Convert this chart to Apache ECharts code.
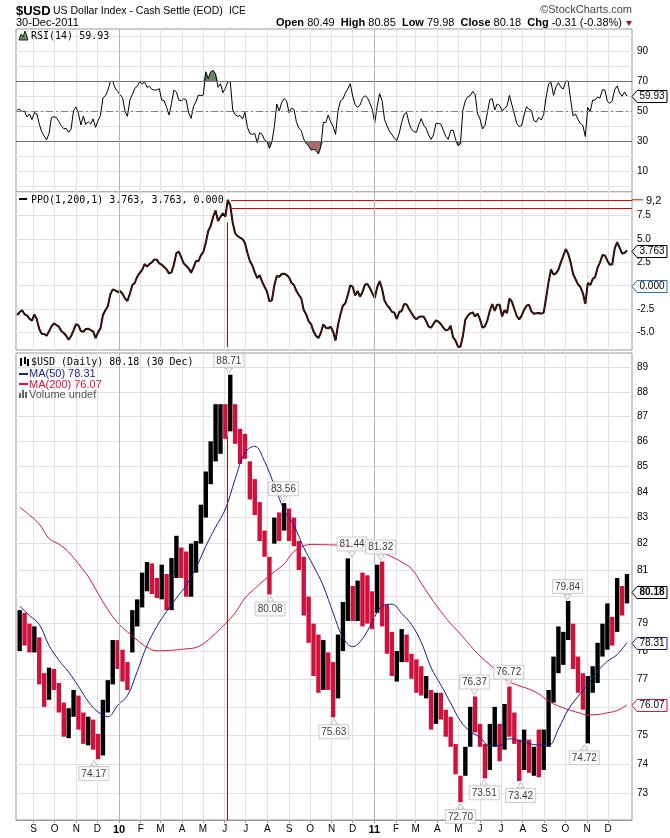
<!DOCTYPE html>
<html>
<head>
<meta charset="utf-8">
<script src="https://cdn.jsdelivr.net/npm/echarts@6/dist/echarts.min.js"></script>
<style>html,body{margin:0;padding:0;background:#fff}#main{width:670px;height:838px}</style>
</head>
<body>
<div id="main"></div>
<script>
/*---------------------------- data ----------------------------*/
// weekly bars, weeks Mon-Fri starting 10 Aug 2009
var weekHigh = [79.5,79.4,79.0,78.9,78.5,77.2,77.4,77.35,76.85,76.15,
  75.95,76.6,76.4,75.8,75.65,75.55,75.05,76.25,76.95,78.4,
  78.4,78.05,77.6,79.5,79.9,80.9,81.3,81.25,80.7,81.2,
  80.85,81.45,82.3,81.85,81.7,82.0,82.1,83.5,84.8,86.0,
  87.5,87.5,87.5,88.71,87.5,86.5,86.3,85.2,84.5,83.6,
  82.5,81.5,83.0,83.2,83.56,83.35,83.0,82.1,81.5,80.0,
  79.0,78.6,78.4,77.95,77.6,78.6,79.8,81.44,80.4,80.6,
  80.9,80.8,80.2,81.2,81.32,79.7,78.7,78.0,78.8,78.6,
  77.9,77.7,77.45,77.1,76.6,76.5,76.5,75.9,75.65,74.7,
  73.6,74.6,76.0,76.37,75.4,74.7,75.4,76.0,75.4,76.1,
  76.72,75.8,74.85,75.2,74.85,74.6,75.2,75.2,76.6,77.8,
  78.9,78.7,79.84,79.0,77.8,77.2,77.1,77.45,78.3,79.0,
  79.75,79.25,80.7,80.4,80.85];
var weekLow = [78.0,78.2,77.95,77.95,76.8,76.0,76.25,76.6,75.8,74.95,
  74.9,75.65,75.2,74.7,74.65,74.5,74.17,74.3,75.8,76.8,
  77.35,76.9,76.6,77.95,78.9,79.6,80.2,80.1,79.95,79.9,
  79.5,79.5,80.7,80.7,80.0,80.0,80.9,82.0,83.0,84.3,
  85.2,85.5,86.1,86.4,85.9,85.1,85.3,83.7,83.1,82.1,
  81.5,80.08,82.0,82.1,82.5,82.1,81.9,81.0,79.3,78.3,
  77.1,76.5,76.6,76.6,75.63,76.3,78.0,79.1,79.1,79.1,
  78.9,79.0,78.8,79.4,78.9,77.9,77.1,76.9,77.6,77.6,
  77.0,76.5,76.4,76.3,75.2,75.4,75.55,74.95,74.6,73.65,
  72.7,73.6,74.6,75.1,74.6,73.51,73.8,74.6,74.1,74.5,
  74.95,74.7,73.42,73.8,73.7,73.6,73.55,73.8,74.6,76.15,
  77.2,77.5,78.4,77.35,76.5,75.9,74.72,76.5,76.85,77.8,
  78.05,78.2,78.7,79.3,79.75];
var weekClose = [78.9,78.4,78.2,78.6,77.0,76.5,77.1,76.9,76.0,75.2,
  75.6,76.3,75.5,75.1,75.3,74.9,74.6,76.1,76.7,77.9,
  77.6,77.3,77.1,79.2,79.5,80.4,80.6,80.4,80.3,80.9,
  80.2,81.1,81.5,81.0,80.5,81.7,81.9,83.3,84.6,85.8,
  86.3,86.9,86.7,87.6,86.2,85.6,85.5,84.0,83.3,82.4,
  81.9,80.6,82.7,82.4,83.1,82.7,82.3,81.2,79.8,78.5,
  77.6,77.0,77.8,77.0,76.6,77.9,79.4,80.2,79.5,80.2,
  80.1,79.8,79.0,80.9,79.1,78.2,77.6,77.7,78.3,77.9,
  77.2,77.0,76.7,76.9,75.9,76.1,75.7,75.1,74.8,73.8,
  73.3,74.5,75.8,75.4,74.8,74.0,75.0,75.5,74.6,75.9,
  75.2,74.9,73.9,74.6,74.1,74.4,73.9,74.8,76.3,77.7,
  78.0,78.5,78.6,77.6,76.9,76.2,76.8,77.2,78.0,78.3,
  78.9,78.6,80.2,79.6,80.18];

// moving averages, one value every second week
var ma50 = [79.65,79.3,78.97,78.2,77.67,77.24,76.73,76.19,75.82,75.65,
  76.05,76.4,77.26,78.2,78.9,79.45,79.95,80.43,81.08,81.9,
  82.63,83.33,84.5,85.55,85.8,85.2,84.25,83.3,82.7,81.85,
  81.15,80.4,79.4,78.5,78.16,78.45,79.07,79.65,79.72,79.38,
  78.97,78.32,77.4,76.78,76.13,75.5,75.13,74.93,74.63,74.65,
  74.88,74.82,74.71,74.66,74.65,75.22,75.9,76.37,76.8,77.27,
  77.63,77.87,78.31];
var ma200 = [83.4,83.1,82.75,82.2,81.98,81.68,81.23,80.75,80.12,79.52,
  79.04,78.7,78.4,78.14,78.01,78.02,78.04,78.08,78.13,78.33,
  78.65,79.0,79.4,79.95,80.3,80.63,80.93,81.23,81.7,81.92,
  81.97,81.96,81.95,81.93,81.88,81.8,81.75,81.65,81.5,81.3,
  81.05,80.5,79.95,79.45,79.0,78.62,78.2,77.82,77.5,77.18,
  76.9,76.75,76.63,76.46,76.2,76.03,75.9,75.8,75.72,75.73,
  75.79,75.87,76.07];

// RSI(14), two readings a week from 8 Aug 2009
var rsi14 = [50.7,51.1,49.6,50.0,46.0,48.0,44.2,48.9,48.2,41.3,
  36.2,33.3,30.7,35.1,45.6,46.2,45.6,42.9,40.2,38.2,
  38.4,35.8,38.0,50.2,52.7,48.4,40.7,46.7,41.1,42.9,
  41.3,44.7,39.1,43.6,47.1,58.7,60.2,63.6,69.5,69.8,
  65.3,63.1,60.7,58.9,50.0,46.4,57.3,60.9,65.1,66.4,
  69.5,67.8,69.6,65.8,66.4,64.4,64.0,64.0,64.9,57.3,
  56.9,52.4,47.3,55.1,64.0,62.7,57.3,56.7,58.2,57.3,
  48.9,45.1,53.1,56.2,60.7,60.2,60.7,76.2,71.6,76.2,
  77.1,74.7,65.8,68.2,62.2,65.1,69.5,69.6,50.7,47.6,
  46.4,47.1,44.7,49.1,39.1,35.1,34.4,35.1,28.9,35.6,
  34.4,30.7,29.6,25.1,29.3,39.6,54.7,50.0,55.8,58.2,
  56.7,48.9,51.8,51.1,42.9,38.7,36.9,31.3,28.4,26.7,
  24.0,24.4,23.8,21.3,26.2,42.4,42.2,47.3,42.7,39.6,
  34.4,50.0,56.7,58.0,62.0,64.7,68.2,60.0,54.2,52.4,
  54.0,58.4,60.2,58.9,55.3,51.1,42.0,53.1,61.6,56.9,
  44.4,40.2,36.4,34.4,32.0,30.2,35.1,42.4,47.8,49.1,
  41.8,38.0,36.2,35.8,40.9,44.9,40.4,38.4,34.0,31.1,
  34.0,41.8,41.6,41.3,37.1,33.1,31.1,36.9,37.3,31.1,
  26.9,28.2,50.7,56.7,59.6,60.2,63.1,60.9,48.2,44.7,
  38.0,40.4,48.9,57.6,58.2,50.7,54.7,53.6,50.2,51.6,
  53.3,60.4,54.2,48.2,41.6,39.6,40.4,47.3,52.9,51.1,
  50.4,43.6,42.7,45.8,44.0,47.8,59.3,68.0,69.1,60.4,
  66.0,68.9,65.8,64.7,69.8,69.9,57.6,46.7,48.0,44.4,
  41.6,40.4,32.9,52.4,49.6,57.3,57.3,59.3,58.7,64.2,
  64.0,56.4,55.1,56.9,64.4,66.7,62.0,59.8,62.7,59.93];

// PPO(1,200,1), same dates as the RSI
var ppo = [-3.14,-2.82,-2.64,-3.07,-3.18,-3.54,-3.75,-3.07,-3.61,-4.64,
  -5.14,-5.18,-5.36,-4.89,-4.36,-4.04,-4.21,-4.39,-4.86,-5.07,
  -5.36,-5.79,-5.39,-4.79,-4.11,-4.25,-4.86,-4.93,-4.64,-4.61,
  -4.75,-4.89,-5.61,-5.0,-4.57,-3.14,-2.64,-2.21,-0.96,-0.39,
  -0.5,-0.68,-0.57,-0.86,-1.36,-1.64,-0.86,0.07,0.29,0.96,
  1.36,1.68,2.32,2.04,2.32,2.5,2.82,2.79,2.39,2.25,
  2.0,1.75,1.32,1.43,2.29,3.5,3.64,3.04,2.39,2.14,
  1.86,1.39,1.96,2.64,2.64,3.25,3.61,4.61,5.86,6.39,
  7.36,8.07,6.93,7.39,7.75,7.39,9.2,8.6,6.75,5.61,
  5.32,5.14,5.0,4.57,3.54,2.64,2.18,1.43,0.82,1.14,
  0.43,-0.11,-0.64,-1.68,-1.57,0.04,1.04,0.96,1.25,1.29,
  1.14,0.89,0.32,0.07,-0.54,-1.0,-1.36,-2.61,-3.07,-3.82,
  -4.11,-4.89,-5.36,-5.61,-5.04,-4.14,-4.5,-4.57,-4.39,-4.93,
  -5.86,-4.21,-3.07,-2.14,-1.89,-1.0,0.04,-0.11,-1.04,-0.57,
  -1.18,-0.68,0.11,0.18,-0.25,-0.79,-1.32,-0.18,0.5,-0.36,
  -1.61,-2.07,-2.39,-2.79,-2.89,-3.57,-2.82,-2.71,-1.96,-2.0,
  -2.5,-2.93,-3.36,-3.61,-3.36,-3.29,-3.32,-3.79,-4.39,-4.5,
  -4.07,-3.71,-3.86,-4.11,-4.5,-4.79,-4.71,-4.29,-5.54,-5.89,
  -6.54,-6.54,-5.39,-3.64,-3.21,-2.96,-2.86,-3.29,-3.0,-3.61,
  -4.5,-4.36,-3.71,-2.68,-1.96,-2.71,-2.04,-2.04,-3.29,-2.61,
  -2.93,-1.36,-1.71,-2.5,-3.25,-3.61,-3.21,-2.57,-2.14,-2.04,
  -2.75,-3.0,-2.96,-2.93,-3.0,-2.89,-1.29,0.43,1.75,1.18,
  1.32,1.71,2.5,3.21,3.93,3.43,2.5,1.25,0.71,0.14,
  -0.14,-0.79,-1.96,0.29,0.07,0.71,0.93,1.93,2.5,3.29,
  3.25,2.68,2.25,2.29,4.0,4.68,4.07,3.46,3.5,3.763];

// labelled highs and lows
var noteDates = ['2009-11-26','2010-06-07','2010-08-05','2010-08-24','2010-11-04','2010-11-30','2011-01-10',
  '2011-05-04','2011-05-24','2011-06-07','2011-07-12','2011-07-29','2011-10-04','2011-10-28'];
var noteValues = [74.17,88.71,80.08,83.56,75.63,81.44,81.32,72.70,76.37,73.51,76.72,73.42,79.84,74.72];
var notePos = ['bottom','top','bottom','top','bottom','top','top','bottom','top','bottom','top','bottom','top','bottom'];

// axis ticks
var priceTicks = [73,74,75,76,77,78,79,80,81,82,83,84,85,86,87,88,89];
var rsiTicks = [10,30,50,70,90];
var rsiGrid = [0,10,20,30,40,50,60,70,80,90,100];
var ppoTicks = [-5,-2.5,2.5,5,7.5];
var ppoGrid = [-5,-2.5,0,2.5,5,7.5,10];
var monthLetters = ['J','F','M','A','M','J','J','A','S','O','N','D'];

/*---------------------------- build ----------------------------*/
var DAY = 86400000;
var t0Week = Date.UTC(2009, 7, 12);
var t0Osc = Date.UTC(2009, 7, 8, 12);
var xMin = Date.UTC(2010, 0, 1) - 147.25 * DAY;
var xMax = Date.UTC(2011, 0, 1) + 368.2 * DAY;
var lg = function (v) { return Math.log(v) / Math.LN10; };

var monthStarts = [];
for (var yy = 2009; yy <= 2011; yy++) {
  for (var mm = 0; mm < 12; mm++) {
    var t = Date.UTC(yy, mm, 1);
    if (t > xMin && t < xMax) monthStarts.push(t);
  }
}
var yearStarts = [Date.UTC(2010, 0, 1), Date.UTC(2011, 0, 1)];
var yearLines = yearStarts.map(function (t) {
  return { xAxis: t, lineStyle: { color: '#b4b4b4', width: 1, type: 'solid' } };
});

var barData = weekHigh.map(function (h, i) {
  var prev = i > 0 ? weekClose[i - 1] : weekClose[0] - 1;
  return [t0Week + i * 7 * DAY, lg(weekLow[i]), lg(h), weekClose[i] >= prev ? 1 : 0];
});
var oscT = function (k) { return t0Osc + k * 3.5 * DAY; };
var rsiData = rsi14.map(function (v, k) { return [oscT(k), v]; });
var obData = rsi14.map(function (v, k) { return [oscT(k), Math.max(v, 70)]; });
var osData = rsi14.map(function (v, k) { return [oscT(k), Math.min(v, 30)]; });
var ppoData = ppo.map(function (v, k) { return [oscT(k), v]; });
var ma50Data = ma50.map(function (v, j) { return [t0Week + j * 14 * DAY, lg(v)]; });
var ma200Data = ma200.map(function (v, j) { return [t0Week + j * 14 * DAY, lg(v)]; });
var noteData = noteValues.map(function (v, i) {
  var top = notePos[i] === 'top';
  return {
    value: [Date.parse(noteDates[i]), lg(v)],
    symbolRotate: top ? 180 : 0,
    symbolOffset: [0, top ? -4 : 4],
    label: { position: notePos[i] }
  };
});

var tRed = Date.UTC(2010, 5, 4);
var tRedH = Date.UTC(2010, 5, 10);
var priceMin = lg(72.10), priceMax = lg(89.61);

var labelFont = 'Liberation Sans';
function xAxisFor(idx, showLabel) {
  return {
    type: 'value', gridIndex: idx, min: xMin, max: xMax,
    axisLine: { show: showLabel, lineStyle: { color: '#999' } },
    axisTick: { show: showLabel, customValues: monthStarts, length: 3, lineStyle: { color: '#999' } },
    axisLabel: {
      show: showLabel, customValues: monthStarts, margin: 4,
      fontSize: 10, fontFamily: labelFont, color: '#000',
      formatter: function (v) {
        var d = new Date(v);
        var m = d.getUTCMonth();
        return m === 0 ? '{yr|' + String(d.getUTCFullYear()).slice(2) + '}' : monthLetters[m];
      },
      rich: { yr: { fontWeight: 'bold', fontSize: 11, fontFamily: labelFont, color: '#000' } }
    },
    splitLine: { show: true, lineStyle: { color: '#e2e2e2', width: 1 } }
  };
}
function yAxisFor(idx, min, max, grid, labels, fmt) {
  return {
    type: 'value', gridIndex: idx, position: 'right', min: min, max: max,
    axisLine: { show: false },
    axisTick: { show: false, customValues: grid },
    axisLabel: { customValues: labels, margin: 5, fontSize: 10, fontFamily: labelFont, color: '#000', formatter: fmt },
    splitLine: { show: true, lineStyle: { color: '#e2e2e2', width: 1 } }
  };
}

var option = {
  animation: false,
  backgroundColor: '#fff',
  grid: [
    { left: 16, right: 38, top: 29, height: 163, show: true, borderColor: '#999', borderWidth: 1 },
    { left: 16, right: 38, top: 192, height: 158, show: true, borderColor: '#999', borderWidth: 1 },
    { left: 16, right: 38, top: 353, height: 467, show: true, borderColor: '#999', borderWidth: 1 }
  ],
  xAxis: [xAxisFor(0, false), xAxisFor(1, false), xAxisFor(2, true)],
  yAxis: [
    yAxisFor(0, -4, 104.67, rsiGrid, rsiTicks, function (v) { return String(v); }),
    yAxisFor(1, -6.89, 10.04, ppoGrid, ppoTicks, function (v) { return v.toFixed(1); }),
    yAxisFor(2, priceMin, priceMax, priceTicks.map(lg), priceTicks.map(lg),
      function (v) { return String(Math.round(Math.pow(10, v))); })
  ],
  series: [
    // RSI panel
    { type: 'line', xAxisIndex: 0, yAxisIndex: 0, data: obData, symbol: 'none', silent: true, z: 2,
      lineStyle: { width: 0 }, areaStyle: { origin: 70, color: '#648c64', opacity: 1 } },
    { type: 'line', xAxisIndex: 0, yAxisIndex: 0, data: osData, symbol: 'none', silent: true, z: 2,
      lineStyle: { width: 0 }, areaStyle: { origin: 30, color: '#a06e6e', opacity: 1 } },
    { type: 'line', name: 'RSI', xAxisIndex: 0, yAxisIndex: 0, data: rsiData, symbol: 'none', z: 3,
      lineStyle: { color: '#000', width: 1 },
      markLine: { silent: true, symbol: 'none', label: { show: false }, data: [
        { yAxis: 70, lineStyle: { color: '#707070', width: 1, type: 'solid' } },
        { yAxis: 30, lineStyle: { color: '#707070', width: 1, type: 'solid' } },
        { yAxis: 50, lineStyle: { color: '#808080', width: 1, type: [7, 3, 2, 3] } }
      ].concat(yearLines) } },
    // PPO panel
    { type: 'line', name: 'PPO', xAxisIndex: 1, yAxisIndex: 1, data: ppoData, symbol: 'none', z: 3,
      lineStyle: { color: '#000', width: 2 },
      markLine: { silent: true, symbol: 'none', label: { show: false },
        lineStyle: { color: '#e00000', width: 1, type: 'solid' },
        data: [
          [{ coord: [tRedH, 9.2] }, { coord: [xMax, 9.2] }],
          [{ coord: [tRedH, 8.3] }, { coord: [xMax, 8.3] }],
          [{ coord: [tRed, -6.6] }, { coord: [tRed, 6.8] }]
        ].concat(yearLines) } },
    { type: 'line', xAxisIndex: 1, yAxisIndex: 1, data: ppoData, symbol: 'none', silent: true, z: 4,
      lineStyle: { color: '#8a1a1a', width: 0.7 } },
    // price panel
    { type: 'custom', name: '$USD', xAxisIndex: 2, yAxisIndex: 2, data: barData, z: 3,
      encode: { x: 0, y: [1, 2] },
      renderItem: function (params, api) {
        var top = api.coord([api.value(0), api.value(2)]);
        var bot = api.coord([api.value(0), api.value(1)]);
        return {
          type: 'rect',
          shape: { x: top[0] - 2.2, y: top[1], width: 4.4, height: Math.max(1, bot[1] - top[1]) },
          style: { fill: api.value(3) ? '#000' : '#d2103c' }
        };
      } },
    { type: 'line', name: 'MA(200)', xAxisIndex: 2, yAxisIndex: 2, data: ma200Data, symbol: 'none', smooth: 0.4, z: 4,
      lineStyle: { color: '#dc143c', width: 1 },
      markLine: { silent: true, symbol: 'none', label: { show: false },
        data: [[{ coord: [tRed, priceMin] }, { coord: [tRed, lg(86.2)] }]].concat(yearLines),
        lineStyle: { color: '#e00000', width: 1, type: 'solid' } } },
    { type: 'line', name: 'MA(50)', xAxisIndex: 2, yAxisIndex: 2, data: ma50Data, symbol: 'none', smooth: 0.4, z: 4,
      lineStyle: { color: '#1c1c96', width: 1 } },
    { type: 'scatter', xAxisIndex: 2, yAxisIndex: 2, data: noteData, z: 6, silent: true,
      symbol: 'triangle', symbolSize: [7, 5],
      itemStyle: { color: '#fff', borderColor: '#bbb', borderWidth: 1 },
      label: { show: true, distance: 1, fontSize: 10, fontFamily: labelFont, color: '#000',
        backgroundColor: '#fff', borderColor: '#c4c4c4', borderWidth: 1, padding: [2, 2, 1, 2],
        formatter: function (p) { return noteValues[p.dataIndex].toFixed(2); } } }
  ]
};

var myChart = echarts.init(document.getElementById('main'));
myChart.setOption(option);

/*---------------------------- texts and tags ----------------------------*/
function txt(x, y, text, font, fill, align) {
  return { type: 'text', x: x, y: y, z: 100,
    style: { text: text, font: font, fill: fill || '#000', align: align || 'left', verticalAlign: 'middle',
      textAlign: align || 'left', textVerticalAlign: 'middle' } };
}
function tag(g, v, text, stroke, bold) {
  var y = Math.round(myChart.convertToPixel({ gridIndex: g }, [xMax, v])[1]) + 0.5;
  return { type: 'group', z: 100, children: [
    { type: 'polygon', z: 100, shape: { points: [[632, y], [637, y - 6], [667, y - 6], [667, y + 6], [637, y + 6]] },
      style: { fill: '#fff', stroke: stroke, lineWidth: 1 } },
    txt(652, y, text, (bold ? 'bold ' : '') + '10px Liberation Sans', '#000', 'center')
  ] };
}
var mono = '10px "DejaVu Sans Mono"';
var ppoTopY = myChart.convertToPixel({ gridIndex: 1 }, [xMax, 9.2])[1];
var graphics = [
  txt(16, 11, '$USD', 'bold 13px Liberation Sans'),
  txt(53, 11, 'US Dollar Index - Cash Settle (EOD)', '10.5px Liberation Sans'),
  txt(229, 11.5, 'ICE', '10px Liberation Sans'),
  txt(16, 23, '30-Dec-2011', '11px Liberation Sans'),
  txt(632, 10, '\u00a9StockCharts.com', '11px Liberation Sans', '#444', 'right'),
  { type: 'text', x: 622, y: 23, z: 100, style: {
      text: '{b|Open} 80.49  {b|High} 80.85  {b|Low} 79.98  {b|Close} 80.18  {b|Chg} -0.31 (-0.38%)',
      font: '11px Liberation Sans', fill: '#000', align: 'right', verticalAlign: 'middle',
      textAlign: 'right', textVerticalAlign: 'middle',
      rich: { b: { fontWeight: 'bold', fontSize: 11, fontFamily: 'Liberation Sans' } } } },
  { type: 'polygon', z: 100, shape: { points: [[626, 21], [632, 21], [629, 26]] }, style: { fill: '#a8103c' } },
  // RSI legend
  { type: 'polygon', z: 100, shape: { points: [[19, 40], [21, 34], [23, 37], [25, 31], [28, 40]] },
    style: { fill: '#648c64', stroke: '#222', lineWidth: 1 } },
  txt(31, 36, 'RSI(14) 59.93', mono),
  // PPO legend
  { type: 'rect', z: 100, shape: { x: 19, y: 198, width: 8, height: 2 }, style: { fill: '#000' } },
  { type: 'text', x: 31, y: 200, z: 100, style: {
      text: '{k|PPO(1,200,1) 3.763}{r|, 3.763}{c|, 0.000}', font: mono, verticalAlign: 'middle', textVerticalAlign: 'middle',
      rich: { k: { color: '#000', fontFamily: 'DejaVu Sans Mono', fontSize: 10 },
        r: { color: '#e00000', fontFamily: 'DejaVu Sans Mono', fontSize: 10 },
        c: { color: '#3a96c8', fontFamily: 'DejaVu Sans Mono', fontSize: 10 } } } },
  { type: 'line', z: 100, shape: { x1: 632, y1: ppoTopY, x2: 643, y2: ppoTopY }, style: { stroke: '#e00000', lineWidth: 1 } },
  txt(646, ppoTopY + 1, '9,2', '11px Liberation Sans'),
  // price legend
  { type: 'rect', z: 100, shape: { x: 20, y: 358, width: 2, height: 8 }, style: { fill: '#000' } },
  { type: 'rect', z: 100, shape: { x: 24, y: 357, width: 2, height: 7 }, style: { fill: '#000' } },
  { type: 'rect', z: 100, shape: { x: 27, y: 359, width: 2, height: 7 }, style: { fill: '#000' } },
  txt(31, 362, '$USD (Daily) 80.18 (30 Dec)', mono),
  { type: 'rect', z: 100, shape: { x: 19, y: 373, width: 9, height: 2 }, style: { fill: '#1c1c96' } },
  txt(29, 374, 'MA(50) 78.31', '11px Liberation Sans', '#1c1c96'),
  { type: 'rect', z: 100, shape: { x: 19, y: 383, width: 9, height: 2 }, style: { fill: '#dc143c' } },
  txt(29, 384.5, 'MA(200) 76.07', '11px Liberation Sans', '#dc143c'),
  { type: 'rect', z: 100, shape: { x: 19, y: 393, width: 2, height: 5 }, style: { fill: '#666' } },
  { type: 'rect', z: 100, shape: { x: 22, y: 390, width: 2, height: 8 }, style: { fill: '#666' } },
  { type: 'rect', z: 100, shape: { x: 25, y: 392, width: 2, height: 6 }, style: { fill: '#666' } },
  txt(29, 394.5, 'Volume undef', '11px Liberation Sans', '#555'),
  // value tags on the right
  tag(0, rsi14[rsi14.length - 1], '59.93', '#000', false),
  tag(1, ppo[ppo.length - 1], '3.763', '#000', false),
  tag(1, 0, '0.000', '#2f6fb0', false),
  tag(2, lg(weekClose[weekClose.length - 1]), '80.18', '#000', true),
  tag(2, lg(ma50[ma50.length - 1]), '78.31', '#1c1c96', false),
  tag(2, lg(ma200[ma200.length - 1]), '76.07', '#dc143c', false)
];
myChart.setOption({ graphic: graphics });
</script>
</body>
</html>
